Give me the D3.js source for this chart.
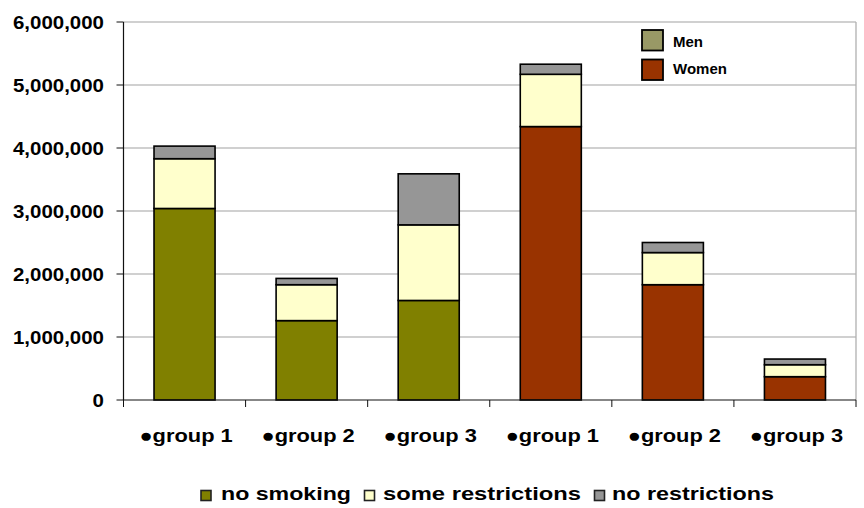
<!DOCTYPE html>
<html>
<head>
<meta charset="utf-8">
<script src="https://cdn.jsdelivr.net/npm/d3@7"></script>
<style>
  html, body { margin: 0; padding: 0; background: #fff; }
  svg { display: block; font-family: Arial, "Liberation Sans", sans-serif; }
</style>
</head>
<body>
<svg id="chart" width="864" height="508"></svg>
<script>
// ---- data ----
const categories = ["●group 1", "●group 2", "●group 3", "●group 1", "●group 2", "●group 3"];
const sexes = ["Men", "Men", "Men", "Women", "Women", "Women"];
const noSmoking = [3040000, 1260000, 1580000, 4340000, 1830000, 370000];
const someRestrictions = [790000, 570000, 1200000, 830000, 510000, 190000];
const noRestrictions = [200000, 100000, 810000, 160000, 160000, 90000];
const seriesNames = ["no smoking", "some restrictions", "no restrictions"];
const sexLegend = ["Men", "Women"];
const yTicks = [0, 1000000, 2000000, 3000000, 4000000, 5000000, 6000000];

// ---- styles ----
const sexColor = { Men: "#808000", Women: "#993300" };
const sexLegendColor = { Men: "#999966", Women: "#993300" };
const seriesColor = { "no smoking": "#808000", "some restrictions": "#FFFFCC", "no restrictions": "#969696" };

const svg = d3.select("#chart");
const pLeft = 123.5, pRight = 856, pTop = 22, pBottom = 400;
const SX = 1.15;

const rows = categories.map((c, i) => ({
  idx: i, cat: c, sex: sexes[i],
  "no smoking": noSmoking[i],
  "some restrictions": someRestrictions[i],
  "no restrictions": noRestrictions[i]
}));

const x = d3.scaleBand().domain(d3.range(categories.length)).range([pLeft, pRight]).paddingInner(0.5).paddingOuter(0.25);
const xCat = d3.scaleBand().domain(d3.range(categories.length)).range([pLeft, pRight]).padding(0);
const y = d3.scaleLinear().domain([0, 6000000]).range([pBottom, pTop]);

// gridlines
svg.append("g").selectAll("line").data(yTicks.filter(t => t > 0)).join("line")
  .attr("x1", pLeft).attr("x2", pRight)
  .attr("y1", d => y(d)).attr("y2", d => y(d))
  .attr("stroke", "#c0c0c0").attr("stroke-width", 1.3);
// right border
svg.append("line").attr("x1", pRight).attr("x2", pRight).attr("y1", pTop).attr("y2", pBottom)
  .attr("stroke", "#b0b0b0").attr("stroke-width", 1.3);

// stacked bars
const stack = d3.stack().keys(seriesNames)(rows);
const gBars = svg.append("g");
stack.forEach(layer => {
  gBars.append("g").selectAll("rect").data(layer).join("rect")
    .attr("x", d => x(d.data.idx))
    .attr("width", x.bandwidth())
    .attr("y", d => y(d[1]))
    .attr("height", d => y(d[0]) - y(d[1]))
    .attr("fill", d => layer.key === "no smoking" ? sexColor[d.data.sex] : seriesColor[layer.key])
    .attr("stroke", "#000").attr("stroke-width", 1.6);
});

// y axis
const yAxisG = svg.append("g");
yAxisG.append("line").attr("x1", pLeft).attr("x2", pLeft).attr("y1", pTop).attr("y2", pBottom)
  .attr("stroke", "#111").attr("stroke-width", 1.2);
yAxisG.selectAll("line.tick").data(yTicks).join("line").attr("class", "tick")
  .attr("x1", pLeft - 7).attr("x2", pLeft).attr("y1", d => y(d)).attr("y2", d => y(d))
  .attr("stroke", "#111").attr("stroke-width", 1);
yAxisG.selectAll("text").data(yTicks).join("text")
  .attr("transform", d => `translate(104,${y(d) + 6.5}) scale(${SX},1)`)
  .attr("text-anchor", "end")
  .attr("font-size", 17.8).attr("font-weight", "bold").attr("fill", "#000")
  .text(d => d3.format(",")(d));

// x axis
const xAxisG = svg.append("g");
xAxisG.append("line").attr("x1", pLeft).attr("x2", pRight).attr("y1", pBottom).attr("y2", pBottom)
  .attr("stroke", "#111").attr("stroke-width", 1.2);
const bounds = d3.range(categories.length).map(i => xCat(i)).concat([pRight]);
xAxisG.selectAll("line.tick").data(bounds).join("line").attr("class", "tick")
  .attr("x1", d => d).attr("x2", d => d).attr("y1", pBottom).attr("y2", pBottom + 7)
  .attr("stroke", "#111").attr("stroke-width", 1);
xAxisG.selectAll("text").data(categories).join("text")
  .attr("transform", (d, i) => `translate(${xCat(i) + xCat.bandwidth() / 2 + 1.5},441.5) scale(${SX},1)`)
  .attr("text-anchor", "middle")
  .attr("font-size", 19).attr("font-weight", "bold").attr("fill", "#000")
  .text(d => d);

// top-right legend (sex)
const lg = svg.append("g");
sexLegend.forEach((s, i) => {
  lg.append("rect").attr("x", 642).attr("y", 30 + i * 29.5).attr("width", 21).attr("height", 20.5)
    .attr("fill", sexLegendColor[s]).attr("stroke", "#000").attr("stroke-width", 1.8);
  lg.append("text").attr("x", 673).attr("y", 46.5 + i * 27.8)
    .attr("font-size", 15).attr("font-weight", "bold").attr("fill", "#000").text(s);
});

// bottom legend (series)
const bl = svg.append("g");
const legendPos = [{ sw: 201, tx: 221, w: 130 }, { sw: 364.5, tx: 383, w: 198 }, { sw: 594.5, tx: 612, w: 162 }];
seriesNames.forEach((s, i) => {
  bl.append("rect").attr("x", legendPos[i].sw).attr("y", 490.5).attr("width", 10).attr("height", 10)
    .attr("fill", seriesColor[s]).attr("stroke", "#222").attr("stroke-width", 1.6);
  bl.append("text").attr("x", legendPos[i].tx).attr("y", 499.5)
    .attr("font-size", 18).attr("font-weight", "bold").attr("fill", "#000")
    .attr("textLength", legendPos[i].w).attr("lengthAdjust", "spacingAndGlyphs")
    .text(s);
});
</script>
</body>
</html>
